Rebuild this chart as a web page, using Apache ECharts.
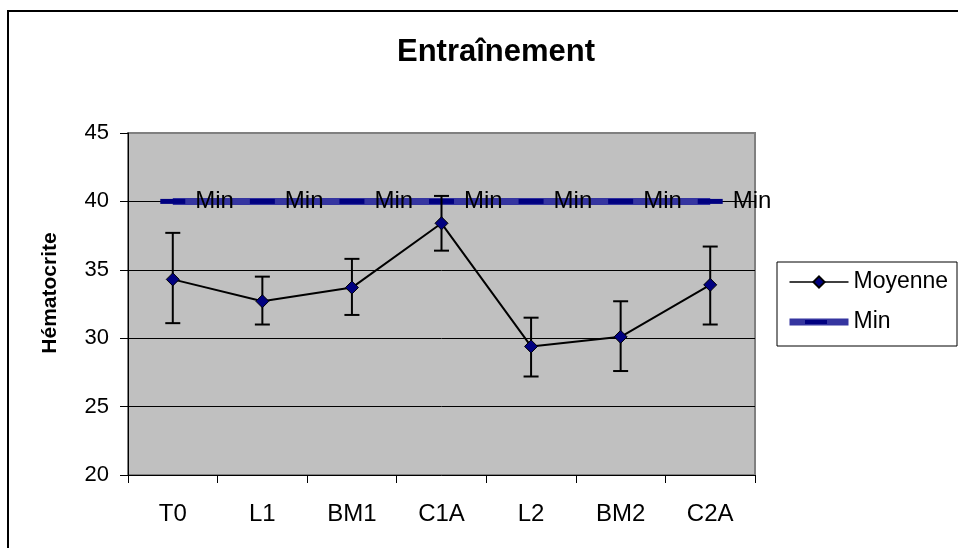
<!DOCTYPE html>
<html>
<head>
<meta charset="utf-8">
<script src="https://cdn.jsdelivr.net/npm/echarts@6/dist/echarts.min.js"></script>
<style>
  html, body { margin: 0; padding: 0; background: #fff; }
  #chart { width: 958px; height: 548px; }
</style>
</head>
<body>
<div id="chart"></div>
<script>
// Haematocrit by training phase: mean with error bars, plus the minimum reference line
const categories = ['T0', 'L1', 'BM1', 'C1A', 'L2', 'BM2', 'C2A'];
const moyenne = [34.3, 32.7, 33.7, 38.4, 29.4, 30.1, 33.9];
const errHaut = [37.7, 34.5, 35.8, 40.4, 31.5, 32.7, 36.7];
const errBas  = [31.1, 31.0, 31.7, 36.4, 27.2, 27.6, 31.0];
const minRef  = [40, 40, 40, 40, 40, 40, 40];
const yTicks  = { min: 20, max: 45, step: 5 };

const FONT = "'Liberation Sans', Arial, sans-serif";
const MIN_LINE = '#3535a0';
const MIN_DASH = '#000080';

const errData = categories.map((c, i) => [i, errBas[i], errHaut[i]]);

const chart = echarts.init(document.getElementById('chart'), null, { renderer: 'canvas' });

chart.setOption({
  backgroundColor: '#ffffff',
  animation: false,
  title: {
    text: 'Entraînement',
    left: 491,
    top: 32,
    textAlign: 'center',
    textStyle: { fontFamily: FONT, fontSize: 31, fontWeight: 'bold', color: '#000' }
  },
  grid: {
    left: 128, right: 203, top: 133, bottom: 73,
    show: true,
    backgroundColor: '#c0c0c0',
    borderColor: '#808080',
    borderWidth: 2
  },
  legend: {
    orient: 'vertical',
    left: 786,
    top: 269,
    padding: 0,
    itemWidth: 59,
    itemHeight: 14,
    itemGap: 14,
    textStyle: { fontFamily: FONT, fontSize: 23, color: '#000', lineHeight: 26 },
    data: [
      { name: 'Moyenne', lineStyle: { width: 1.5, color: '#000' } },
      { name: 'Min', lineStyle: { width: 7, color: MIN_LINE }, itemStyle: { opacity: 0 } }
    ]
  },
  xAxis: {
    type: 'category',
    data: categories,
    boundaryGap: true,
    axisLine: { lineStyle: { color: '#000', width: 1 } },
    axisTick: { show: true, length: 8, lineStyle: { color: '#000' } },
    axisLabel: { fontFamily: FONT, fontSize: 24, color: '#000', margin: 27 },
    splitLine: { show: false }
  },
  yAxis: {
    type: 'value',
    min: yTicks.min,
    max: yTicks.max,
    interval: yTicks.step,
    axisLine: { show: true, lineStyle: { color: '#000', width: 1 } },
    axisTick: { show: true, length: 8, lineStyle: { color: '#000' } },
    axisLabel: { fontFamily: FONT, fontSize: 22, color: '#000', margin: 19 },
    splitLine: { show: true, showMinLine: false, showMaxLine: false, lineStyle: { color: '#000', width: 1 } }
  },
  graphic: [
    {
      type: 'rect',
      shape: { x: 8, y: 11, width: 1200, height: 1000 },
      style: { fill: 'none', stroke: '#000', lineWidth: 2 },
      silent: true,
      z: 0
    },
    {
      type: 'rect',
      shape: { x: 777, y: 262, width: 180, height: 84 },
      style: { fill: '#fff', stroke: '#000', lineWidth: 1 },
      silent: true,
      z: 1
    },
    {
      // dark dash in the middle of the Min legend swatch
      type: 'rect',
      shape: { x: 805, y: 320, width: 22, height: 4 },
      style: { fill: MIN_DASH },
      silent: true,
      z: 100
    },
    {
      type: 'text',
      x: 50,
      y: 293,
      rotation: Math.PI / 2,
      style: {
        text: 'Hématocrite',
        fontFamily: FONT,
        fontSize: 21,
        fontWeight: 'bold',
        fill: '#000',
        align: 'center',
        verticalAlign: 'middle'
      },
      z: 5
    }
  ],
  series: [
    {
      name: 'Min',
      type: 'line',
      data: minRef,
      z: 2,
      symbol: 'rect',
      symbolSize: [25, 5],
      itemStyle: { color: MIN_DASH },
      lineStyle: { color: MIN_LINE, width: 7 },
      label: {
        show: true,
        position: 'right',
        distance: 10,
        formatter: 'Min',
        fontFamily: FONT,
        fontSize: 24,
        color: '#000'
      }
    },
    {
      name: 'erreur',
      type: 'custom',
      z: 3,
      data: errData,
      renderItem: function (params, api) {
        const x = api.value(0);
        const lo = api.coord([x, api.value(1)]);
        const hi = api.coord([x, api.value(2)]);
        const hw = 7.5;
        const st = { stroke: '#000', lineWidth: 2 };
        return {
          type: 'group',
          children: [
            { type: 'line', shape: { x1: lo[0], y1: lo[1], x2: hi[0], y2: hi[1] }, style: st },
            { type: 'line', shape: { x1: hi[0] - hw, y1: hi[1], x2: hi[0] + hw, y2: hi[1] }, style: st },
            { type: 'line', shape: { x1: lo[0] - hw, y1: lo[1], x2: lo[0] + hw, y2: lo[1] }, style: st }
          ]
        };
      }
    },
    {
      name: 'Moyenne',
      type: 'line',
      data: moyenne,
      z: 4,
      symbol: 'diamond',
      symbolSize: 13,
      lineStyle: { color: '#000', width: 2 },
      itemStyle: { color: '#000080', borderColor: '#000', borderWidth: 1 }
    }
  ]
});
</script>
</body>
</html>
